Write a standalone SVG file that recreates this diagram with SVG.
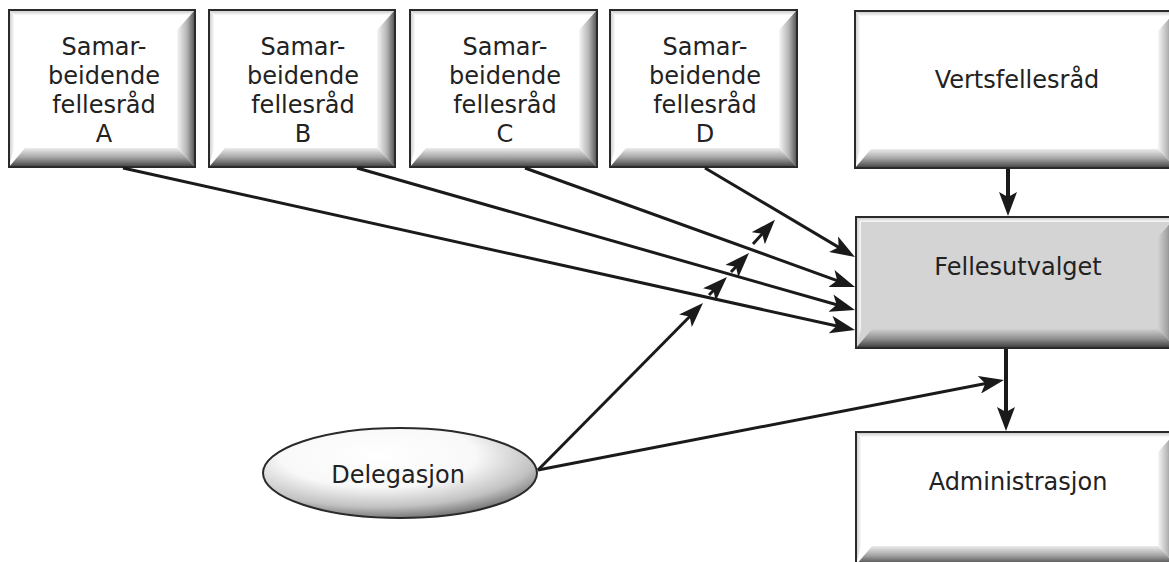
<svg xmlns="http://www.w3.org/2000/svg" width="1169" height="562" viewBox="0 0 1169 562">
<defs>
<style>
.face{fill:#ffffff}
.faceG{fill:#d4d4d4}
.bt{fill:url(#gT)}
.bl{fill:url(#gL)}
.br{fill:url(#gR)}
.bb{fill:url(#gB)}
.brG{fill:url(#gR2)}
.bbG{fill:url(#gB2)}
.out{fill:none;stroke:#2a2a2a;stroke-width:2}
.t{font-family:"DejaVu Sans","Verdana",sans-serif;fill:#222;text-anchor:middle}
.ts{font-size:24px}
.tb{font-size:24px}
.c{fill:none;stroke:#1a1a1a;stroke-width:3;marker-end:url(#arr)}
.cv{fill:none;stroke:#1a1a1a;stroke-width:4;marker-end:url(#arrB)}
</style>
<linearGradient id="gT" x1="0" y1="0" x2="0" y2="1"><stop offset="0" stop-color="#c4c4c4"/><stop offset="1" stop-color="#fafafa"/></linearGradient>
<linearGradient id="gL" x1="0" y1="0" x2="1" y2="0"><stop offset="0" stop-color="#c8c8c8"/><stop offset="1" stop-color="#fafafa"/></linearGradient>
<linearGradient id="gR" x1="0" y1="0" x2="1" y2="0"><stop offset="0" stop-color="#f6f6f6"/><stop offset="0.55" stop-color="#b4b4b4"/><stop offset="1" stop-color="#505050"/></linearGradient>
<linearGradient id="gB" x1="0" y1="0" x2="0" y2="1"><stop offset="0" stop-color="#ececec"/><stop offset="0.5" stop-color="#a4a4a4"/><stop offset="1" stop-color="#404040"/></linearGradient>
<linearGradient id="gR2" x1="0" y1="0" x2="1" y2="0"><stop offset="0" stop-color="#d2d2d2"/><stop offset="0.55" stop-color="#a0a0a0"/><stop offset="1" stop-color="#4a4a4a"/></linearGradient>
<linearGradient id="gB2" x1="0" y1="0" x2="0" y2="1"><stop offset="0" stop-color="#cfcfcf"/><stop offset="0.5" stop-color="#929292"/><stop offset="1" stop-color="#3a3a3a"/></linearGradient>
<radialGradient id="gE" cx="0.42" cy="0.3" r="0.72"><stop offset="0" stop-color="#ffffff"/><stop offset="0.5" stop-color="#f8f8f8"/><stop offset="0.8" stop-color="#c2c2c2"/><stop offset="1" stop-color="#707070"/></radialGradient>
<marker id="arr" markerUnits="userSpaceOnUse" markerWidth="25" markerHeight="18" refX="17" refY="9" orient="auto" viewBox="0 0 25 18"><path d="M0,0 L25,9 L0,18 L6,9 z" fill="#1a1a1a"/></marker>
<marker id="arrB" markerUnits="userSpaceOnUse" markerWidth="24" markerHeight="18" refX="16" refY="9" orient="auto" viewBox="0 0 24 18"><path d="M0,0 L24,9 L0,18 L5,9 z" fill="#1a1a1a"/></marker>
</defs>
<rect x="0" y="0" width="1169" height="562" fill="#ffffff"/>

<g id="boxA">
<rect class="face" x="9" y="10" width="186" height="157"/>
<polygon class="bt" points="9,10 195,10 191,15 14,15"/>
<polygon class="bl" points="9,10 14,15 14,148 9,167"/>
<polygon class="br" points="195,10 195,167 177,148 177,30"/>
<polygon class="bb" points="9,167 195,167 177,148 25,148"/>
<rect class="out" x="9" y="10" width="186" height="157"/>
<text class="t ts" x="104" y="55">Samar-</text>
<text class="t ts" x="104" y="84">beidende</text>
<text class="t ts" x="104" y="113">fellesråd</text>
<text class="t ts" x="104" y="142">A</text>
</g>

<g id="boxB">
<rect class="face" x="209" y="10" width="186" height="157"/>
<polygon class="bt" points="209,10 395,10 391,15 214,15"/>
<polygon class="bl" points="209,10 214,15 214,148 209,167"/>
<polygon class="br" points="395,10 395,167 377,148 377,30"/>
<polygon class="bb" points="209,167 395,167 377,148 225,148"/>
<rect class="out" x="209" y="10" width="186" height="157"/>
<text class="t ts" x="303" y="55">Samar-</text>
<text class="t ts" x="303" y="84">beidende</text>
<text class="t ts" x="303" y="113">fellesråd</text>
<text class="t ts" x="303" y="142">B</text>
</g>

<g id="boxC">
<rect class="face" x="410" y="10" width="187" height="157"/>
<polygon class="bt" points="410,10 597,10 593,15 415,15"/>
<polygon class="bl" points="410,10 415,15 415,148 410,167"/>
<polygon class="br" points="597,10 597,167 579,148 579,30"/>
<polygon class="bb" points="410,167 597,167 579,148 426,148"/>
<rect class="out" x="410" y="10" width="187" height="157"/>
<text class="t ts" x="505" y="55">Samar-</text>
<text class="t ts" x="505" y="84">beidende</text>
<text class="t ts" x="505" y="113">fellesråd</text>
<text class="t ts" x="505" y="142">C</text>
</g>

<g id="boxD">
<rect class="face" x="610" y="10" width="187" height="157"/>
<polygon class="bt" points="610,10 797,10 793,15 615,15"/>
<polygon class="bl" points="610,10 615,15 615,148 610,167"/>
<polygon class="br" points="797,10 797,167 779,148 779,30"/>
<polygon class="bb" points="610,167 797,167 779,148 626,148"/>
<rect class="out" x="610" y="10" width="187" height="157"/>
<text class="t ts" x="705" y="55">Samar-</text>
<text class="t ts" x="705" y="84">beidende</text>
<text class="t ts" x="705" y="113">fellesråd</text>
<text class="t ts" x="705" y="142">D</text>
</g>

<g id="vertsfellesrad">
<rect class="face" x="855" y="11" width="321" height="157"/>
<polygon class="bt" points="855,11 1176,11 1172,16 860,16"/>
<polygon class="bl" points="855,11 860,16 860,149 855,168"/>
<polygon class="br" points="1176,11 1176,168 1158,149 1158,31"/>
<polygon class="bb" points="855,168 1176,168 1158,149 871,149"/>
<rect class="out" x="855" y="11" width="321" height="157"/>
<text class="t tb" x="1017" y="88">Vertsfellesråd</text>
</g>

<g id="fellesutvalget">
<rect class="faceG" x="856" y="217" width="320" height="131"/>
<polygon class="bt" points="856,217 1176,217 1172,222 861,222"/>
<polygon class="bl" points="856,217 861,222 861,329 856,348"/>
<polygon class="brG" points="1176,217 1176,348 1158,329 1158,237"/>
<polygon class="bbG" points="856,348 1176,348 1158,329 872,329"/>
<rect class="out" x="856" y="217" width="320" height="131"/>
<text class="t tb" x="1018" y="275">Fellesutvalget</text>
</g>

<g id="administrasjon">
<rect class="face" x="856" y="432" width="320" height="133"/>
<polygon class="bt" points="856,432 1176,432 1172,437 861,437"/>
<polygon class="bl" points="856,432 861,437 861,546 856,565"/>
<polygon class="br" points="1176,432 1176,565 1158,546 1158,452"/>
<polygon class="bb" points="856,565 1176,565 1158,546 872,546"/>
<rect class="out" x="856" y="432" width="320" height="133"/>
<text class="t tb" x="1018" y="490">Administrasjon</text>
</g>

<g id="delegasjon">
<ellipse cx="400" cy="473" rx="137" ry="45" fill="url(#gE)" stroke="#2a2a2a" stroke-width="2"/>
<text class="t tb" x="398" y="483">Delegasjon</text>
</g>

<g id="connectors">
<line class="c" x1="123" y1="168" x2="847.2" y2="328.3"/>
<line class="c" x1="357" y1="168" x2="847.3" y2="307.8"/>
<line class="c" x1="525" y1="168" x2="847.5" y2="284.3"/>
<line class="c" x1="705" y1="168" x2="848.1" y2="252.9"/>
<line class="c" x1="538" y1="470" x2="697.4" y2="308.7"/>
<line class="c" x1="709" y1="295" x2="721.3" y2="282.7"/>
<line class="c" x1="731" y1="272" x2="743.5" y2="258.8"/>
<line class="c" x1="753" y1="244" x2="769.6" y2="225.7"/>
<line class="c" x1="538" y1="470" x2="996.1" y2="381.5"/>
<line class="cv" x1="1008" y1="169" x2="1008" y2="208"/>
<line class="cv" x1="1006" y1="349" x2="1006" y2="423"/>
</g>
</svg>
